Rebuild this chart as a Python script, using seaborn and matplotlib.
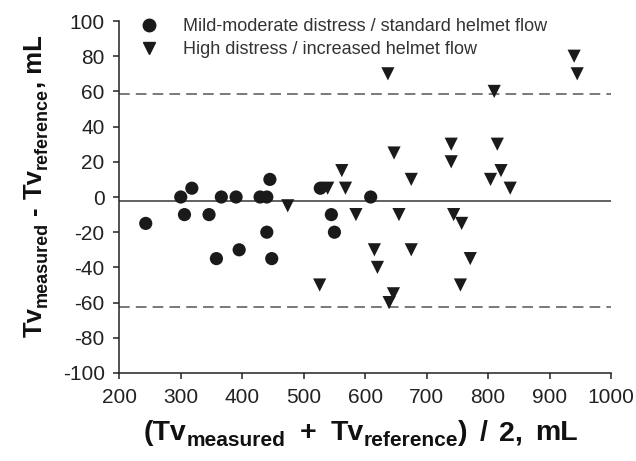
import matplotlib
matplotlib.use("Agg")
import pandas as pd
import matplotlib.pyplot as plt
import seaborn as sns
from matplotlib.lines import Line2D
from matplotlib.transforms import IdentityTransform

# Bland-Altman data
mild_mean = [243, 300, 306, 318, 346, 358, 366, 390, 395, 429, 440, 440, 445, 448, 527, 545, 550, 609]
mild_diff = [-15, 0, -10, 5, -10, -35, 0, 0, -30, 0, 0, -20, 10, -35, 5, -10, -20, 0]

high_mean = [474, 526, 539, 562, 568, 585, 615, 620, 637, 639, 646, 647, 655, 675,
             675, 740, 740, 744, 757, 755, 771, 804, 810, 815, 821, 836, 940, 945]
high_diff = [-5, -50, 5, 15, 5, -10, -30, -40, 70, -60, -55, 25, -10, 10,
             -30, 30, 20, -10, -15, -50, -35, 10, 60, 30, 15, 5, 80, 70]

group_labels = ["Mild-moderate distress / standard helmet flow",
                "High distress / increased helmet flow"]

bias = -2.0
upper_loa = 58.5
lower_loa = -62.5

df = pd.DataFrame({
    "mean": mild_mean + high_mean,
    "diff": mild_diff + high_diff,
    "group": [group_labels[0]] * len(mild_mean) + [group_labels[1]] * len(high_mean),
})

sns.set_theme(style="ticks")
plt.rcParams["font.family"] = ["Liberation Sans", "DejaVu Sans"]
plt.rcParams["axes.unicode_minus"] = False

fig = plt.figure(figsize=(6.36, 4.61), dpi=100)
ax = fig.add_axes([0.1876, 0.1909, 0.7731, 0.7635])

sns.scatterplot(
    data=df, x="mean", y="diff", hue="group", style="group",
    markers={group_labels[0]: "o", group_labels[1]: "v"},
    palette={group_labels[0]: "#1a1a1a", group_labels[1]: "#1a1a1a"},
    s=90, edgecolor="none", legend=False, ax=ax, zorder=3,
)

ax.axhline(bias, color="#555555", linewidth=1.3, zorder=2)
ax.axhline(upper_loa, color="#555555", linewidth=1.1, linestyle=(0, (7, 4)), zorder=2)
ax.axhline(lower_loa, color="#555555", linewidth=1.1, linestyle=(0, (7, 4)), zorder=2)

ax.set_xlim(200, 1000)
ax.set_ylim(-100, 100)
ax.set_xticks(range(200, 1001, 100))
ax.set_yticks(range(-100, 101, 20))
ax.tick_params(labelsize=15, length=4.5, width=1.1, colors="#222222", pad=6)
for side in ["left", "bottom"]:
    ax.spines[side].set_linewidth(1.1)
    ax.spines[side].set_color("#222222")
sns.despine(ax=ax)
ax.set_xlabel("")
ax.set_ylabel("")

handles = [
    Line2D([], [], marker="o", linestyle="none", color="#1a1a1a", markersize=9),
    Line2D([], [], marker="v", linestyle="none", color="#1a1a1a", markersize=9),
]
ax.legend(handles, group_labels, loc="upper left", bbox_to_anchor=(-0.01, 1.055),
          frameon=False, fontsize=13, handletextpad=0.9, labelspacing=0.35,
          labelcolor="#333333")


# axis titles with large subscripts, drawn piece by piece in pixel coordinates
def rich_label(pieces, cx, cy, vertical=False):
    renderer = fig.canvas.get_renderer()
    items = []
    for txt, size, rise, gap in pieces:
        t = fig.text(0, 0, txt, fontsize=size, fontweight="bold", color="#111111",
                     transform=IdentityTransform(), ha="left", va="baseline",
                     rotation=90 if vertical else 0, rotation_mode="anchor")
        bb = t.get_window_extent(renderer)
        items.append((t, bb.height if vertical else bb.width, rise, gap))
    total = sum(w + g for _, w, _, g in items) - items[-1][3]
    pos = -total / 2
    for t, w, rise, gap in items:
        if vertical:
            t.set_position((cx - rise, cy + pos))
        else:
            t.set_position((cx + pos, cy + rise))
        pos += w + gap


rich_label([
    ("(Tv", 20.5, 0, 0), ("measured", 15, -6, 14),
    ("+", 20.5, 0, 14), ("Tv", 20.5, 0, 0),
    ("reference", 15, -6, 0), (")", 20.5, 0, 12),
    ("/", 20.5, 0, 12), ("2,", 20.5, 0, 12), ("mL", 20.5, 0, 0),
], 361, 461 - 440)
rich_label([
    ("Tv", 18.5, 0, 0), ("measured", 13, -5, 7),
    ("-", 18.5, 0, 7), ("Tv", 18.5, 0, 0),
    ("reference", 13, -5, 0), (", mL", 18.5, 0, 0),
], 42, 461 - 186, vertical=True)

fig.savefig("out.png", dpi=100)
